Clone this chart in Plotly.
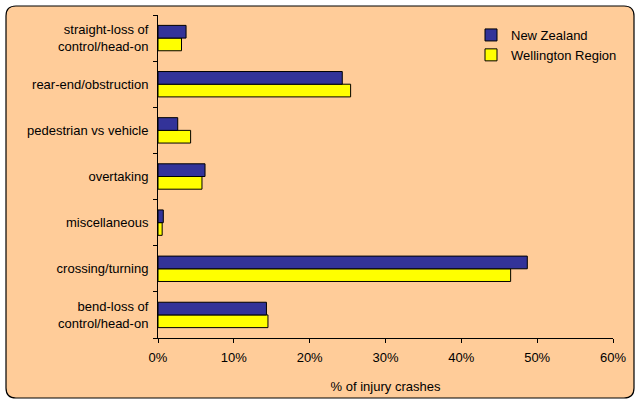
import plotly.graph_objects as go

categories = ["bend-loss of<br>control/head-on", "crossing/turning", "miscellaneous",
              "overtaking", "pedestrian vs vehicle", "rear-end/obstruction",
              "straight-loss of<br>control/head-on"]
new_zealand = [14.3, 48.7, 0.7, 6.2, 2.6, 24.3, 3.7]
wellington = [14.5, 46.5, 0.55, 5.8, 4.3, 25.4, 3.1]
x_ticks = [0, 10, 20, 30, 40, 50, 60]
x_tick_labels = [f"{v}%" for v in x_ticks]

W, H = 635, 400
L, R, T, B = 158, 22, 15, 62
pw, ph = W - L - R, H - T - B

def px(x):
    return (x - L) / pw

def py(y):
    return (H - B - y) / ph

fig = go.Figure()
fig.add_trace(go.Bar(y=categories, x=wellington, orientation="h", name="Wellington Region",
                     marker=dict(color="#FFFF00", line=dict(color="#000000", width=1)),
                     legendrank=2))
fig.add_trace(go.Bar(y=categories, x=new_zealand, orientation="h", name="New Zealand",
                     marker=dict(color="#333399", line=dict(color="#000000", width=1)),
                     legendrank=1))

# rounded border box
x0, x1, y0, y1, r = 6, 634, 6, 398, 10
path = (f"M {px(x0+r)},{py(y0)} L {px(x1-r)},{py(y0)} "
        f"Q {px(x1)},{py(y0)} {px(x1)},{py(y0+r)} L {px(x1)},{py(y1-r)} "
        f"Q {px(x1)},{py(y1)} {px(x1-r)},{py(y1)} L {px(x0+r)},{py(y1)} "
        f"Q {px(x0)},{py(y1)} {px(x0)},{py(y1-r)} L {px(x0)},{py(y0+r)} "
        f"Q {px(x0)},{py(y0)} {px(x0+r)},{py(y0)} Z")

fig.update_layout(
    width=W, height=H,
    margin=dict(l=L, r=R, t=T, b=B, autoexpand=False),
    paper_bgcolor="white", plot_bgcolor="rgba(0,0,0,0)",
    font=dict(family="Liberation Sans, Arial, sans-serif", size=13, color="#000000"),
    barmode="group", bargap=0.45, bargroupgap=0.0,
    showlegend=True,
    legend=dict(x=px(471), y=py(20), xanchor="left", yanchor="top", bgcolor="rgba(0,0,0,0)",
                font=dict(size=13), itemwidth=30, tracegroupgap=4),
    shapes=[dict(type="path", xref="paper", yref="paper", path=path,
                 fillcolor="#FFCC99", line=dict(color="#000000", width=1.2), layer="below")],
    xaxis=dict(range=[0, 60], tickvals=x_ticks, ticktext=x_tick_labels, showgrid=False,
               zeroline=False, automargin=False,
               showline=True, linecolor="#000000", linewidth=1, ticks="outside", ticklen=4,
               tickcolor="#000000", ticklabelstandoff=3,
               title=dict(text="% of injury crashes", standoff=18, font=dict(size=13)),
               fixedrange=True),
    yaxis=dict(type="category", categoryorder="array", categoryarray=categories,
               showgrid=False, showline=True, linecolor="#000000", linewidth=1, automargin=False,
               ticks="outside", ticklen=4, tickcolor="#000000", tickson="boundaries",
               ticklabelstandoff=6, fixedrange=True),
)

fig.write_html("out.html", config={"displayModeBar": False},
               post_script="document.body.style.margin='0';")
